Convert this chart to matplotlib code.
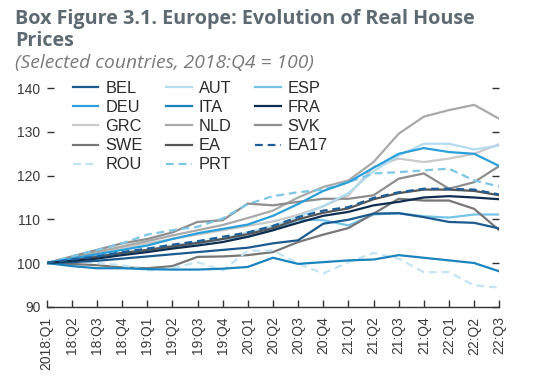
import matplotlib
matplotlib.use("Agg")
import matplotlib.pyplot as plt

quarters = ["2018:Q1", "18:Q2", "18:Q3", "18:Q4", "19:Q1", "19:Q2", "19:Q3", "19:Q4",
            "20:Q1", "20:Q2", "20:Q3", "20:Q4", "21:Q1", "21:Q2", "21:Q3", "21:Q4",
            "22:Q1", "22:Q2", "22:Q3"]

BEL = [100, 100.2, 100.5, 101.0, 101.5, 102.0, 102.5, 103.0, 103.5, 104.5, 105.2, 109.0, 109.9, 111.3, 111.4, 110.5, 109.4, 109.2, 107.9]
AUT = [100, 100.8, 101.5, 102.3, 103.0, 104.0, 104.8, 105.5, 107.0, 108.5, 110.5, 113.0, 116.0, 121.0, 124.6, 127.3, 127.3, 126.0, 126.9]
ESP = [100, 100.8, 101.5, 102.2, 102.8, 103.5, 104.5, 105.5, 106.0, 107.5, 109.9, 109.8, 108.6, 111.1, 111.4, 110.7, 110.4, 111.1, 111.1]
DEU = [100, 101.0, 102.0, 103.0, 104.0, 105.5, 106.8, 107.8, 108.8, 110.8, 113.5, 116.5, 118.5, 121.8, 125.0, 126.3, 125.4, 125.0, 122.2]
ITA = [100, 99.3, 98.8, 98.8, 98.6, 98.5, 98.5, 98.7, 99.1, 101.2, 99.8, 100.2, 100.6, 100.8, 101.8, 101.2, 100.6, 100.0, 98.1]
FRA = [100, 100.5, 101.0, 101.8, 102.5, 103.3, 104.0, 104.8, 106.0, 107.5, 109.2, 110.8, 111.7, 113.2, 114.0, 115.0, 115.3, 115.0, 114.6]
GRC = [100, 101.0, 102.3, 103.5, 104.5, 105.5, 106.5, 107.5, 108.5, 109.5, 111.0, 113.0, 115.5, 122.0, 123.9, 123.1, 123.9, 125.0, 127.2]
NLD = [100, 101.2, 102.5, 103.8, 105.0, 106.3, 107.5, 108.7, 110.3, 112.0, 115.0, 117.4, 118.9, 123.1, 129.6, 133.5, 135.0, 136.2, 133.0]
SVK = [100, 101.5, 103.0, 104.5, 105.5, 107.0, 109.4, 109.8, 113.6, 113.2, 114.0, 114.7, 114.7, 115.5, 119.3, 120.5, 117.0, 118.5, 122.2]
SWE = [100, 99.8, 99.5, 99.0, 98.8, 99.3, 101.4, 101.5, 101.8, 102.5, 104.8, 106.5, 108.0, 111.3, 114.7, 114.3, 114.3, 112.4, 107.5]
EA = [100, 100.7, 101.4, 102.3, 103.0, 103.8, 104.6, 105.5, 106.6, 108.0, 110.0, 111.5, 112.5, 114.6, 116.0, 116.8, 116.8, 116.5, 115.5]
EA17 = [100, 100.8, 101.5, 102.5, 103.3, 104.2, 105.0, 106.0, 107.0, 108.5, 110.5, 112.0, 112.8, 114.9, 116.2, 117.0, 117.0, 116.8, 115.7]
ROU = [100, 100.5, 100.0, 99.5, 98.3, 98.8, 100.2, 98.3, 102.8, 102.9, 99.9, 97.6, 100.2, 102.3, 101.0, 97.9, 97.9, 94.9, 94.4]
PRT = [100, 101.5, 103.0, 104.5, 106.5, 107.5, 108.3, 110.2, 113.5, 115.3, 116.2, 116.8, 118.5, 120.5, 120.8, 121.2, 121.6, 118.9, 117.5]

names = ["BEL", "AUT", "ESP", "DEU", "ITA", "FRA", "GRC", "NLD", "SVK", "SWE", "EA", "EA17", "ROU", "PRT"]
series = [BEL, AUT, ESP, DEU, ITA, FRA, GRC, NLD, SVK, SWE, EA, EA17, ROU, PRT]
colors = {"BEL": "#1b5a8e", "AUT": "#b3dcef", "ESP": "#74c3e8", "DEU": "#2b9fd9",
          "ITA": "#1a84bf", "FRA": "#0f2d4f", "GRC": "#c9c9c9", "NLD": "#a9a9a9",
          "SVK": "#8e8e8e", "SWE": "#777777", "EA": "#565656", "EA17": "#1f5f99",
          "ROU": "#c2e4f3", "PRT": "#7cc6e6"}
dashed = {"EA17", "ROU", "PRT"}

plt.rcParams["font.family"] = ["Liberation Sans", "DejaVu Sans"]

fig = plt.figure(figsize=(5.39, 3.83), dpi=100)
ax = fig.add_axes([0.0865, 0.1992, 0.8398, 0.5932])

x = list(range(len(quarters)))
order_cols = ["BEL", "DEU", "GRC", "SWE", "ROU", "AUT", "ITA", "NLD", "EA", "PRT", "ESP", "FRA", "SVK", "EA17"]
handles = {}
draw_order = ["GRC", "NLD", "SVK", "AUT", "ESP", "SWE", "EA", "ROU", "PRT", "ITA", "BEL", "DEU", "FRA", "EA17"]
for nm in draw_order:
    vals = series[names.index(nm)]
    kw = dict(color=colors[nm], lw=1.6, label=nm, solid_joinstyle="miter")
    if nm in dashed:
        kw["dashes"] = (3.5, 2.2)
    (h,) = ax.plot(x, vals, **kw)
    handles[nm] = h

ax.set_xlim(0, 18)
ax.set_ylim(90, 142)
ax.set_yticks([90, 100, 110, 120, 130, 140])
ax.set_xticks(x)
ax.set_xticklabels(quarters, rotation=90, fontsize=10, color="#3a3a3a")
for s in ["left", "right", "top"]:
    ax.spines[s].set_visible(False)
ax.spines["bottom"].set_color("#333333")
ax.spines["bottom"].set_linewidth(1.0)
ax.tick_params(axis="x", direction="in", length=5, width=1.0, color="#333333", pad=7)
ax.tick_params(axis="y", direction="in", length=5, width=1.0, color="#333333", pad=4.5,
               labelsize=10, labelcolor="#3a3a3a", right=True)

leg = ax.legend([handles[n] for n in order_cols], order_cols, ncol=3, frameon=False,
                loc="upper left", bbox_to_anchor=(73 / 539, 1 - 81 / 383),
                bbox_transform=fig.transFigure, borderaxespad=0, borderpad=0,
                fontsize=11.8, handlelength=1.55, handletextpad=0.42,
                labelspacing=0.25, columnspacing=1.45)
for t in leg.get_texts():
    t.set_color("#2a2a2a")

fig.text(15 / 539, 1 - 24 / 383, "Box Figure 3.1. Europe: Evolution of Real House",
         fontsize=14.2, fontweight="bold", color="#5e6a72", family="Open Sans", va="baseline")
fig.text(15 / 539, 1 - 46 / 383, "Prices",
         fontsize=14.2, fontweight="bold", color="#5e6a72", family="Open Sans", va="baseline")
fig.text(15 / 539, 1 - 68 / 383, "(Selected countries, 2018:Q4 = 100)",
         fontsize=13.9, style="italic", color="#7a7a7a", family="Open Sans", va="baseline")

fig.savefig("out.png", dpi=100)
